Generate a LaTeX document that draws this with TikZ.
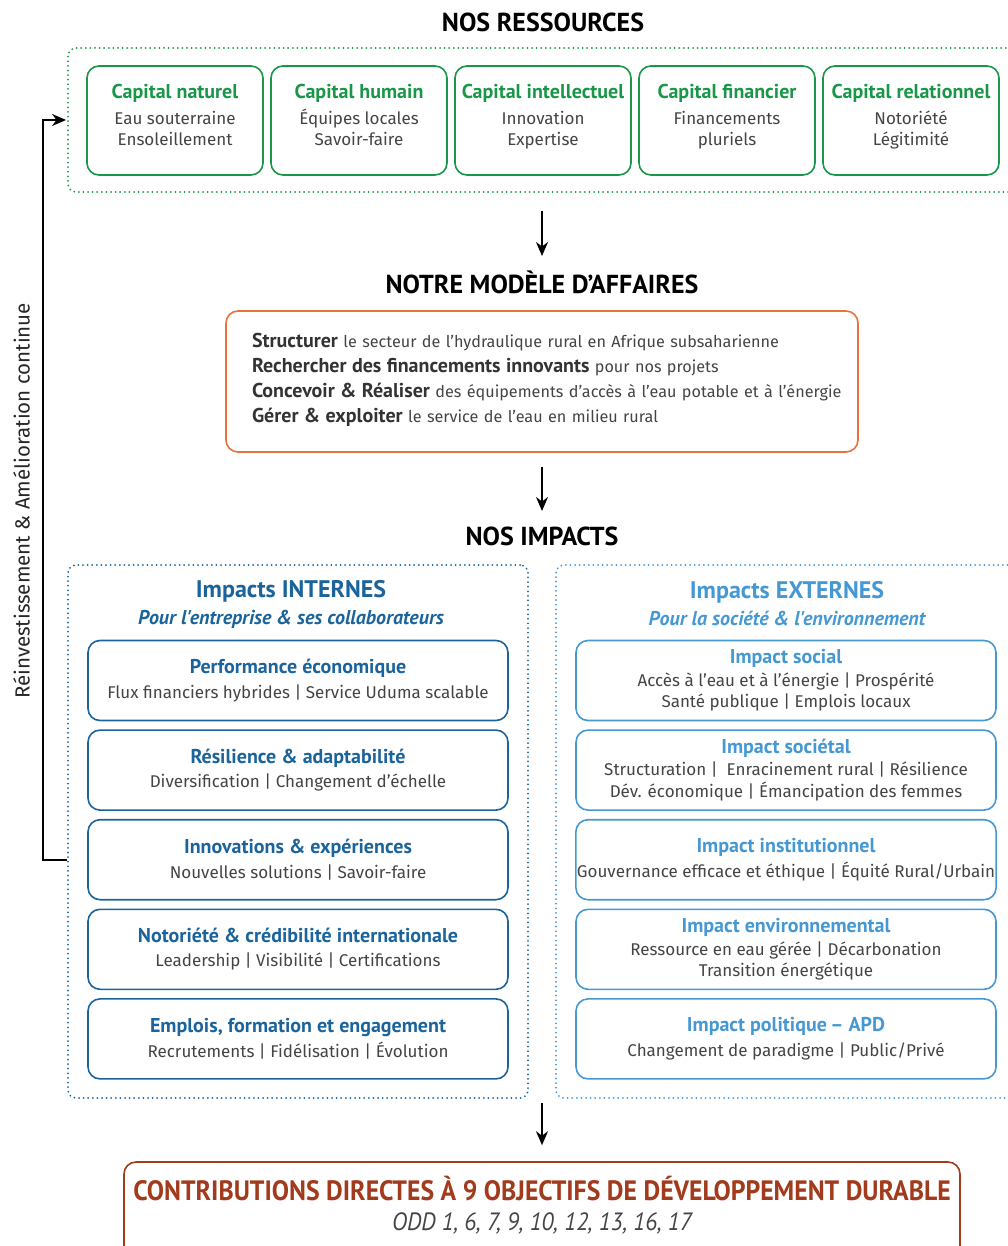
\documentclass[tikz,border=0pt]{standalone}
\usepackage{fontspec}
\setmainfont{Fira Sans}
\newfontfamily\headfont{PT Sans}
\newfontfamily\condfont{PT Sans}[FakeStretch=0.92]
\usepackage{tikz}
\usetikzlibrary{arrows.meta,%
	positioning}
\definecolor{resgreen}{RGB}{26,150,72}
\definecolor{modorange}{RGB}{232,116,59}
\definecolor{intblue}{RGB}{27,100,155}
\definecolor{extblue}{RGB}{70,152,210}
\definecolor{oddred}{RGB}{162,58,28}
\definecolor{txtgray}{RGB}{68,68,68}
\newcommand{\captitle}[1]{{\headfont\bfseries\fontsize{20}{22}\selectfont\color{resgreen}#1}}
\newcommand{\inttitle}[1]{{\headfont\bfseries\fontsize{20}{22}\selectfont\color{intblue}#1}}
\newcommand{\exttitle}[1]{{\headfont\bfseries\fontsize{20}{22}\selectfont\color{extblue}#1}}
\newcommand{\modverb}[1]{{\headfont\bfseries\fontsize{20}{25}\selectfont\color{black!80}#1}}

\begin{document}
\begin{tikzpicture}[x=1pt,y=-1pt,line width=1.6pt,
	section title/.style={font=\headfont\bfseries\fontsize{26}{30}\selectfont,text=black},
	dot frame/.style={draw,rounded corners=8pt,dash pattern=on 0pt off 4.6pt,line cap=round,line width=2pt},
	capital node/.style={draw=resgreen,rounded corners=12pt,outer sep=0pt,inner xsep=2pt,minimum width=176pt,minimum height=109pt,align=center,text=txtgray,font=\fontsize{17}{21}\selectfont},
	impact node/.style={rounded corners=12pt,outer sep=0pt,inner xsep=1pt,minimum width=420pt,minimum height=80pt,align=center,text=txtgray,font=\fontsize{17}{21.5}\selectfont},
	flow/.style={-{Stealth[length=14pt,width=12pt]},line width=1.6pt,black}]
	\useasboundingbox (0,0) rectangle (1007,1246);

	% ressources
	\node[section title] (resTitle) at (543,22) {NOS RESSOURCES};
	\node[dot frame,draw=resgreen,minimum width=955pt,minimum height=144pt] (ressources) at (545.5,120) {};
	\node[capital node] (naturel) at (175,120.5) {\captitle{Capital naturel}\\[5pt]Eau souterraine\\Ensoleillement\\[-10pt]\mbox{}};
	\node[capital node,right=8pt of naturel] (humain) {\captitle{Capital humain}\\[5pt]Équipes locales\\Savoir-faire\\[-10pt]\mbox{}};
	\node[capital node,right=8pt of humain] (intel) {\captitle{Capital intellectuel}\\[5pt]Innovation\\Expertise\\[-10pt]\mbox{}};
	\node[capital node,right=8pt of intel] (financier) {\captitle{Capital financier}\\[5pt]Financements\\pluriels\\[-10pt]\mbox{}};
	\node[capital node,right=8pt of financier] (relation) {\captitle{Capital relationnel}\\[5pt]Notoriété\\Légitimité\\[-10pt]\mbox{}};

	% modele d'affaires
	\node[section title] (modTitle) at (542,282) {NOTRE MODÈLE D’AFFAIRES};
	\node[draw=modorange,rounded corners=12pt,minimum width=632pt,minimum height=141pt] (modele) at (542,381.5) {};
	\node[right=26pt of modele.west,anchor=west,yshift=2pt,inner sep=0pt,text width=600pt,align=left,text=txtgray,
		font=\fontsize{16.2}{25}\selectfont] (modText)
		{\modverb{Structurer} le secteur de l’hydraulique rural en Afrique subsaharienne\\
		\modverb{Rechercher des financements innovants} pour nos projets\\
		\modverb{Concevoir \& Réaliser} des équipements d’accès à l’eau potable et à l’énergie\\
		\modverb{Gérer \& exploiter} le service de l’eau en milieu rural};

	% impacts
	\node[section title] (impTitle) at (542,536) {NOS IMPACTS};
	\node[dot frame,draw=intblue,minimum width=460pt,minimum height=533pt] (internes) at (298,831.5) {};
	\node[dot frame,draw=extblue,minimum width=464pt,minimum height=533pt] (externes) at (788,831.5) {};
	\node[align=center,text=intblue,font=\headfont\bfseries\fontsize{20}{27}\selectfont] (intTitle) at (291,604) {{\fontsize{24}{27}\selectfont Impacts INTERNES}\\{\itshape Pour l'entreprise \& ses collaborateurs}};
	\node[align=center,text=extblue,font=\headfont\bfseries\fontsize{20}{27}\selectfont] (extTitle) at (787,604) {{\fontsize{24}{27}\selectfont Impacts EXTERNES}\\{\itshape Pour la société \& l'environnement}};

	\node[impact node,draw=intblue] (perf) at (298,680.5) {\inttitle{Performance économique}\\[3pt]Flux financiers hybrides | Service Uduma scalable};
	\node[impact node,draw=intblue,below=9.6pt of perf] (resil) {\inttitle{Résilience \& adaptabilité}\\[3pt]Diversification | Changement d’échelle};
	\node[impact node,draw=intblue,below=9.6pt of resil] (innov) {\inttitle{Innovations \& expériences}\\[3pt]Nouvelles solutions | Savoir-faire};
	\node[impact node,draw=intblue,below=9.6pt of innov] (notor) {\inttitle{Notoriété \& crédibilité internationale}\\[3pt]Leadership | Visibilité | Certifications};
	\node[impact node,draw=intblue,below=9.6pt of notor] (emploi) {\inttitle{Emplois, formation et engagement}\\[3pt]Recrutements | Fidélisation | Évolution};

	\node[impact node,draw=extblue] (social) at (786,680.5) {\exttitle{Impact social}\\[1pt]Accès à l’eau et à l’énergie | Prospérité\\Santé publique | Emplois locaux};
	\node[impact node,draw=extblue,below=9.6pt of social] (societal) {\exttitle{Impact sociétal}\\[1pt]Structuration |\ \ Enracinement rural | Résilience\\Dév. économique | Émancipation des femmes};
	\node[impact node,draw=extblue,below=9.6pt of societal] (institu) {\exttitle{Impact institutionnel}\\[3pt]Gouvernance efficace et éthique | Équité Rural/Urbain};
	\node[impact node,draw=extblue,below=9.6pt of institu] (environ) {\exttitle{Impact environnemental}\\[1pt]Ressource en eau gérée | Décarbonation\\Transition énergétique};
	\node[impact node,draw=extblue,below=9.6pt of environ] (politique) {\exttitle{Impact politique\,– APD}\\[3pt]Changement de paradigme | Public/Privé};

	% contributions ODD
	\node[draw=oddred,rounded corners=12pt,minimum width=836pt,minimum height=100pt] (odd) at (542,1212) {};
	\node[align=center,font=\condfont\fontsize{25}{30}\selectfont] (oddText) at (542,1205) {{\bfseries\fontsize{28}{30}\selectfont\color{oddred}CONTRIBUTIONS DIRECTES À 9 OBJECTIFS DE DÉVELOPPEMENT DURABLE}\\{\itshape\color{txtgray}ODD 1, 6, 7, 9, 10, 12, 13, 16, 17}};

	% fleches
	\draw[flow] ([yshift=-18pt]ressources.south -| modTitle) -- ([yshift=26pt]modTitle.center);
	\draw[flow] ([yshift=-14pt]modele.south) -- ([yshift=25pt]impTitle.center);
	\draw[flow] ([yshift=-4pt]internes.south -| odd.north) -- ([yshift=16pt]odd.north);
	\coordinate (loopLeft) at (43,0);
	\draw[flow] (internes.west |- innov) -- (loopLeft |- innov) -- node[pos=0.485,above=9pt,sloped,text=black!85,font=\fontsize{20.5}{22}\selectfont] (loopText) {Réinvestissement \& Amélioration continue} (loopLeft |- ressources.west) -- ([xshift=-1pt]ressources.west);
\end{tikzpicture}
\end{document}
